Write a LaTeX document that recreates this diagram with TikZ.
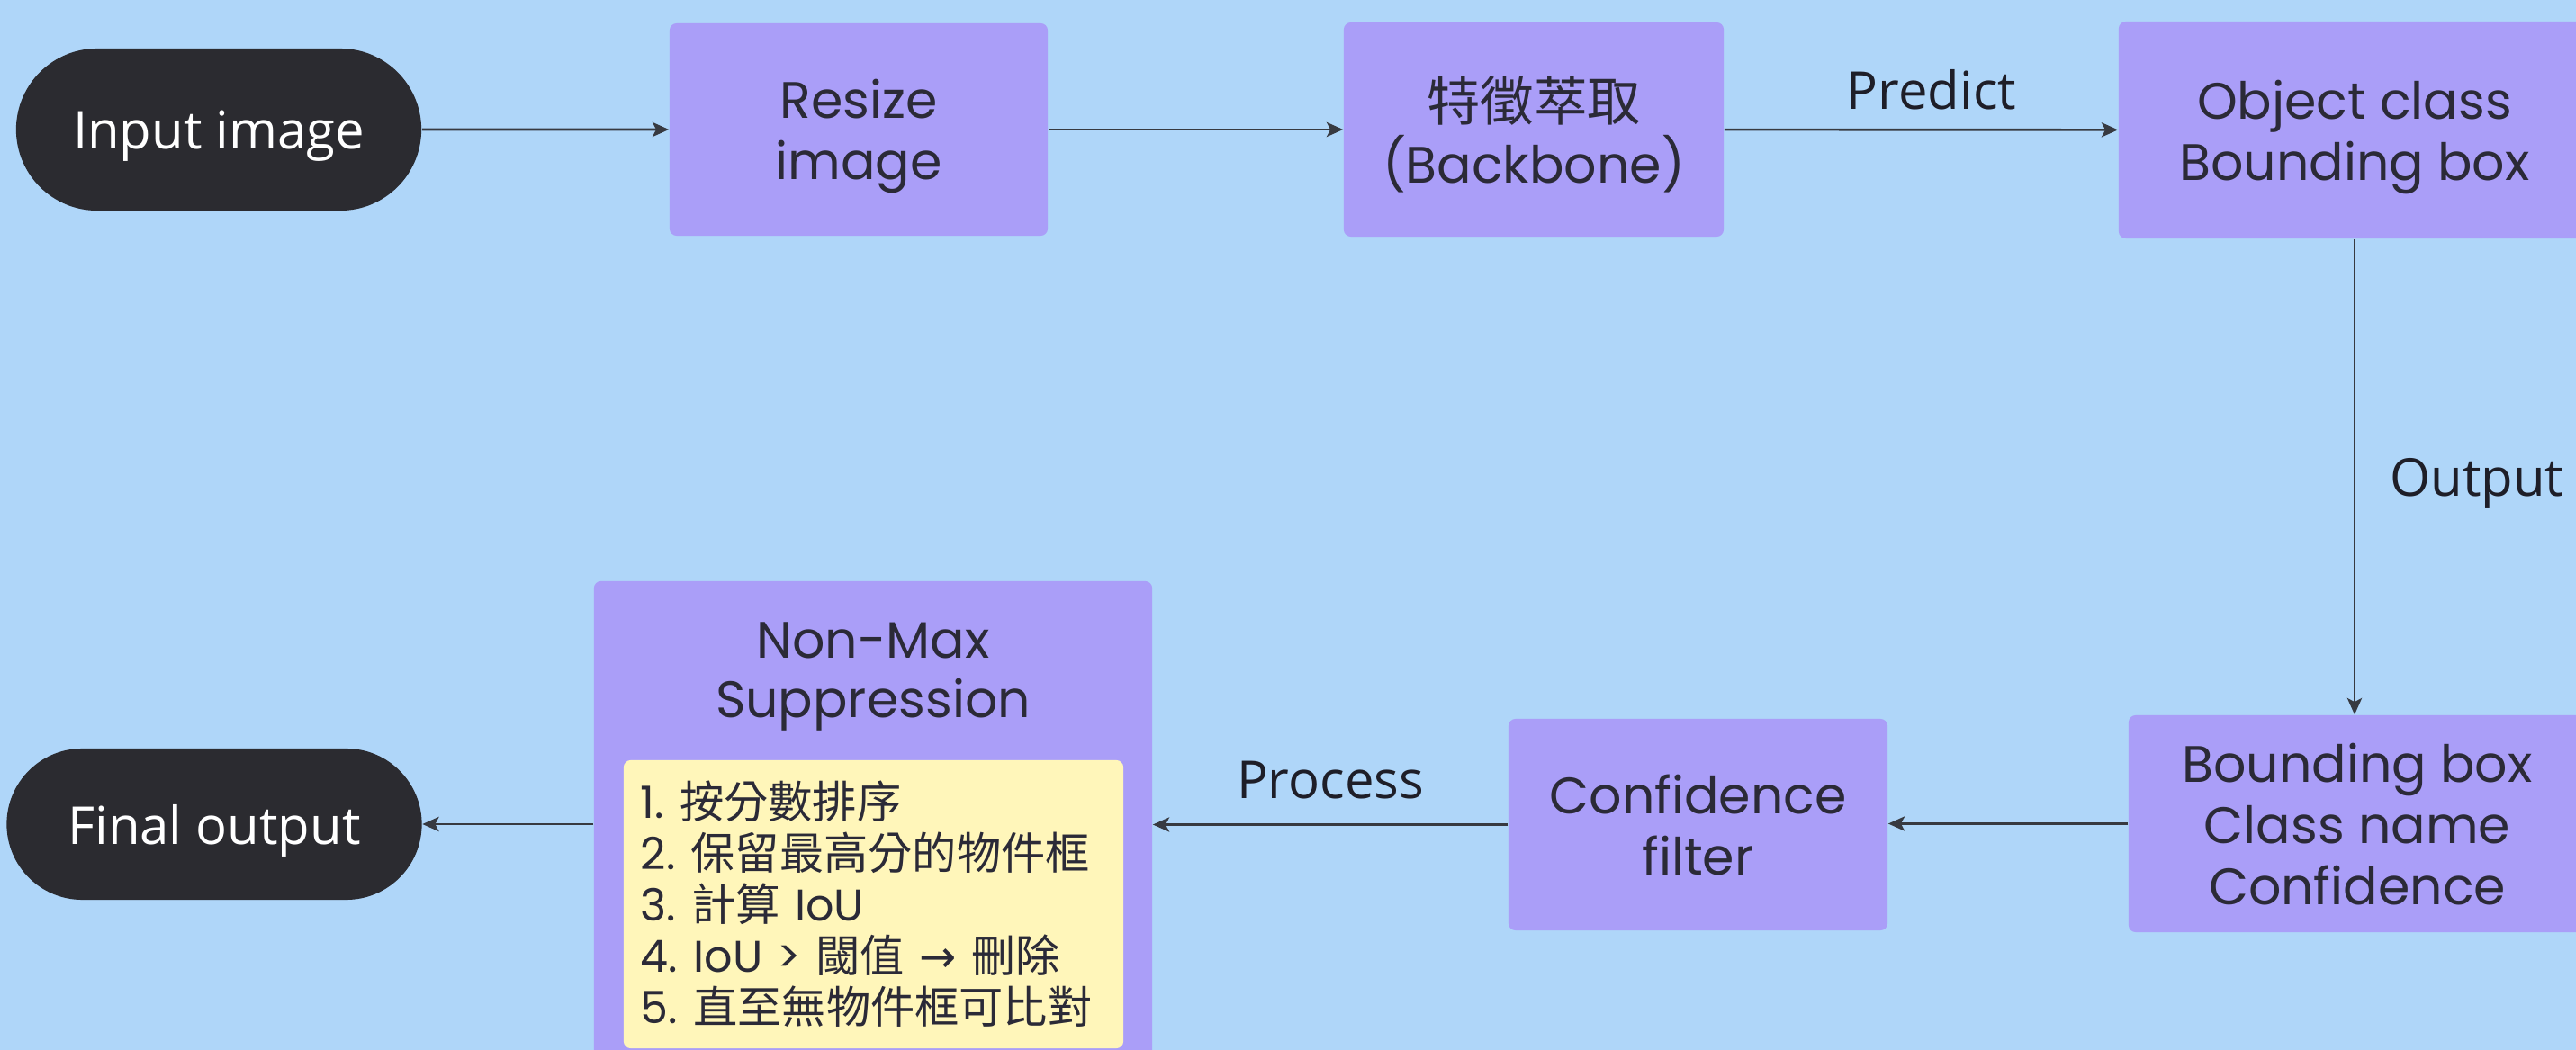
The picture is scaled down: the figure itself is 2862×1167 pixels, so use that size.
\documentclass[tikz,border=0pt]{standalone}
\usepackage{fontspec}
\setmainfont{Poppins}
\newfontfamily\cjk{Noto Sans CJK TC}
\newfontfamily\osans{Open Sans}
\newfontfamily\djv{DejaVu Sans}
\usetikzlibrary{arrows.meta,shapes.misc}
\definecolor{bgblue}{RGB}{175,214,249}
\definecolor{boxpurple}{RGB}{170,158,248}
\definecolor{noteyellow}{RGB}{255,246,186}
\definecolor{pillgray}{RGB}{43,43,48}
\definecolor{txt}{RGB}{43,42,55}
\definecolor{lbltxt}{RGB}{30,30,40}
\definecolor{arrowc}{RGB}{55,58,65}
\newcommand{\numsp}{\hspace{0.35em}}
\begin{document}
\begin{tikzpicture}[x=0.01cm,y=-0.01cm,
  box/.style={rectangle, rounded corners=0.08cm, fill=boxpurple, text=txt, align=center,
    font=\fontsize{16.2}{19.35}\selectfont, text depth=0pt, inner sep=0pt},
  pill/.style={rounded rectangle, fill=pillgray, text=white,
    font=\osans\fontsize{16.5}{19.8}\selectfont, text depth=0pt, inner sep=0pt},
  lbl/.style={text=lbltxt, font=\osans\fontsize{16.5}{19.8}\selectfont, inner sep=0pt},
  note/.style={rectangle, rounded corners=0.08cm, fill=noteyellow, text=txt, align=left,
    font=\fontsize{14}{16.2}\selectfont, inner xsep=0.19cm, inner ysep=0pt},
  arr/.style={draw=arrowc, line width=0.75pt, -{Stealth[length=5.2pt,width=4.6pt,inset=1.2pt]}}
]
\clip (0,0) rectangle (2862,1167);
\fill[bgblue] (0,0) rectangle (2862,1167);

\node[pill, minimum width=4.50cm, minimum height=1.80cm] (inp) at (243,144) {Input image};
\node[box, minimum width=4.20cm, minimum height=2.36cm] (resize) at (954,144) {Resize\\image};
\node[box, minimum width=4.22cm, minimum height=2.38cm] (feat) at (1704,144)
  {{\cjk\fontsize{16.9}{19.35}\selectfont 特徵萃取}\\(Backbone)};
\node[box, minimum width=5.24cm, minimum height=2.41cm] (obj) at (2616,144.5) {Object class\\Bounding box};
\node[box, minimum width=5.08cm, minimum height=2.41cm] (bbox) at (2619,915.5) {Bounding box\\Class name\\Confidence};
\node[box, minimum width=4.21cm, minimum height=2.35cm] (conf) at (1886.5,916.5) {Confidence\\filter};
\node[box, minimum width=6.20cm, minimum height=5.44cm] (nms) at (970,918) {};
\node[text=txt, align=center, font=\fontsize{16.2}{18.8}\selectfont, text depth=0pt, inner sep=0pt]
  (nmstitle) at (970,745) {Non-Max\\Suppression};
\node[note, minimum width=5.55cm, minimum height=3.20cm, text width=5.17cm] (steps) at (970.5,1005)
  {1.\numsp{\cjk 按分數排序}\\
   2.\numsp{\cjk 保留最高分的物件框}\\
   3.\numsp{\cjk 計算} IoU\\
   4.\numsp IoU > {\cjk 閾值} {\djv →} {\cjk 刪除}\\
   5.\numsp{\cjk 直至無物件框可比對}};
\node[pill, minimum width=4.61cm, minimum height=1.68cm] (fin) at (238,916) {Final output};

\draw[arr] (inp) -- (resize);
\draw[arr] (resize) -- (feat);
\draw[arr] (feat) -- node[lbl, anchor=base, yshift=0.23cm, xshift=0.115cm] (plbl) {Predict} (obj);
\draw[arr] (obj.south) -- node[lbl, anchor=west, xshift=0.38cm, text depth=0pt] (olbl) {Output} (obj.south |- bbox.north);
\draw[arr] (bbox.west) -- (conf.east |- bbox.west);
\draw[arr] (conf.west) -- node[lbl, anchor=base, yshift=0.29cm] (prlbl) {Process} (nms.east |- conf.west);
\draw[arr] (nms.west |- fin.east) -- (fin.east);
\end{tikzpicture}
\end{document}
